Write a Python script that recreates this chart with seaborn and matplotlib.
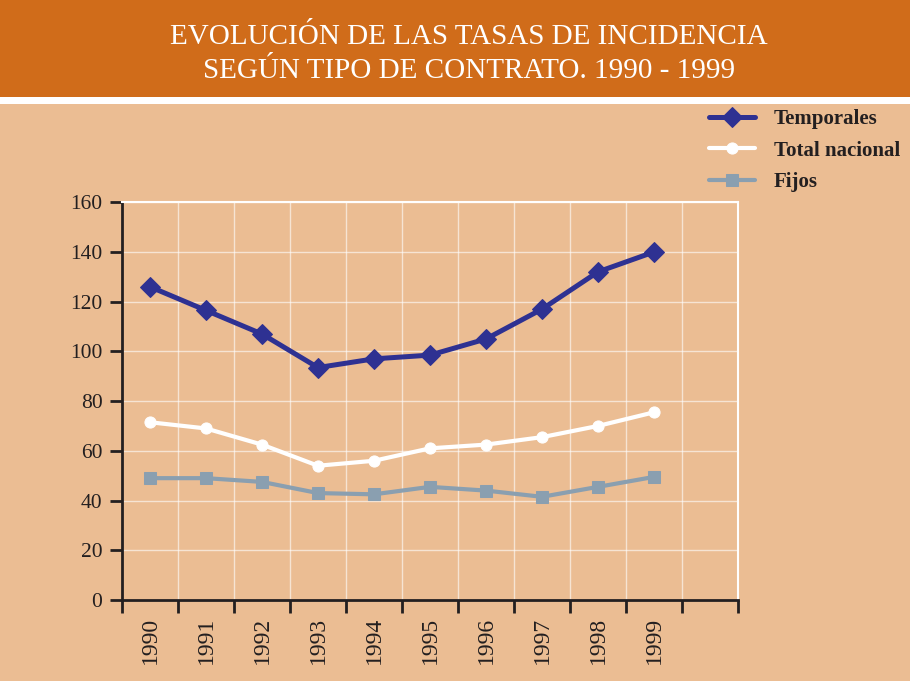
import numpy as np
import pandas as pd
import matplotlib
matplotlib.use("Agg")
import matplotlib.pyplot as plt
from matplotlib.patches import Rectangle
import seaborn as sns

years = [1990, 1991, 1992, 1993, 1994, 1995, 1996, 1997, 1998, 1999]
temporales = [126, 116.5, 107, 93.5, 97, 98.5, 105, 117, 132, 140]
total_nacional = [71.5, 69, 62.5, 54, 56, 61, 62.5, 65.5, 70, 75.5]
fijos = [49, 49, 47.5, 43, 42.5, 45.5, 44, 41.5, 45.5, 49.5]
series_names = ["Temporales", "Total nacional", "Fijos"]

title = "EVOLUCIÓN DE LAS TASAS DE INCIDENCIA\nSEGÚN TIPO DE CONTRATO. 1990 - 1999"

bg = "#EBBD93"
banner = "#D06C1A"
ink = "#231F20"

df = pd.DataFrame({
    "year": years * 3,
    "value": temporales + total_nacional + fijos,
    "serie": [s for s in series_names for _ in years],
})

sns.set_style("white")
plt.rcParams["font.family"] = ["Liberation Serif", "DejaVu Serif"]

fig = plt.figure(figsize=(9.1, 6.81), dpi=100, facecolor=bg)

# title banner
fig.patches.append(Rectangle((0, 0.857), 1, 0.143, transform=fig.transFigure,
                             facecolor=banner, edgecolor="none", zorder=0))
fig.patches.append(Rectangle((0, 0.848), 1, 0.009, transform=fig.transFigure,
                             facecolor="white", edgecolor="none", zorder=0))
fig.text(0.515, 0.921, title, ha="center", va="center", color="white",
         fontsize=21, linespacing=1.4)

ax = fig.add_axes([0.134, 0.119, 0.677, 0.584])
ax.set_facecolor(bg)

styles = {
    "Temporales": dict(color="#2E3192", marker="D", markersize=10, lw=3.6),
    "Total nacional": dict(color="white", marker="o", markersize=8, lw=3),
    "Fijos": dict(color="#8A9FB0", marker="s", markersize=9, lw=3),
}
for name in series_names:
    sub = df[df["serie"] == name]
    st = styles[name]
    sns.lineplot(data=sub, x="year", y="value", ax=ax, color=st["color"],
                 linewidth=st["lw"], marker=st["marker"], markersize=st["markersize"],
                 markeredgecolor=st["color"], markerfacecolor=st["color"],
                 label=name, zorder=3)

ax.set_xlim(1989.5, 2000.5)
ax.set_ylim(0, 160)
ax.set_xticks(np.arange(1989.5, 2001, 1))
ax.set_xticklabels([])
ax.set_xticks(years, minor=True)
ax.set_xticklabels([str(y) for y in years], minor=True, rotation=90,
                   fontsize=17, color=ink)
ax.tick_params(axis="x", which="minor", bottom=True, length=0, pad=12)
ax.tick_params(axis="x", which="major", bottom=True, length=9, width=2,
               color=ink, direction="out")
ax.set_yticks(np.arange(0, 161, 20))
ax.tick_params(axis="y", left=True, length=9, width=2, color=ink, direction="out",
               labelsize=15.5, labelcolor=ink, pad=5)
ax.set_xlabel("")
ax.set_ylabel("")
ax.grid(True, which="major", color="white", linewidth=1, alpha=0.6)
ax.set_axisbelow(True)

for side in ["left", "bottom"]:
    ax.spines[side].set_color(ink)
    ax.spines[side].set_linewidth(2)
for side in ["top", "right"]:
    ax.spines[side].set_visible(True)
    ax.spines[side].set_color("white")
    ax.spines[side].set_linewidth(1.5)

leg = ax.legend(loc="upper left", bbox_to_anchor=(0.94, 1.255), frameon=False,
                fontsize=15, handlelength=2.2, labelspacing=0.55,
                handletextpad=0.9, borderaxespad=0)
for t in leg.get_texts():
    t.set_color(ink)
    t.set_fontweight("bold")

fig.savefig("out.png", dpi=100, facecolor=bg)
